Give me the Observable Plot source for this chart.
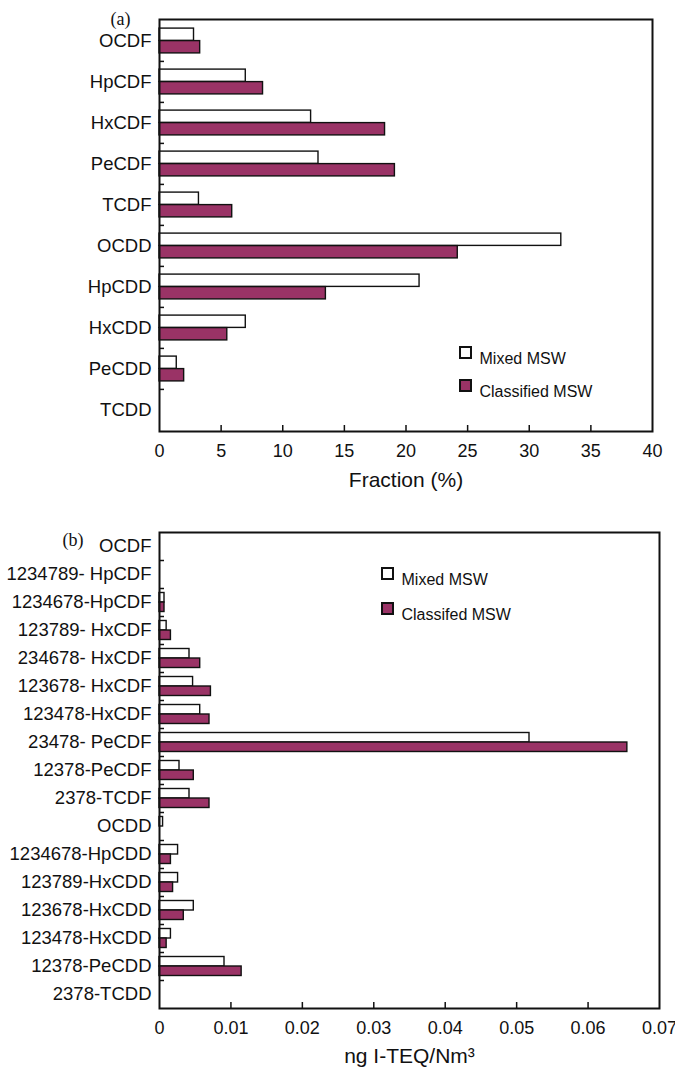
<!DOCTYPE html>
<html>
<head>
<meta charset="utf-8">
<script src="https://cdn.jsdelivr.net/npm/d3@7"></script>
<script src="https://cdn.jsdelivr.net/npm/@observablehq/plot@0.6"></script>
<style>
  body { margin: 0; background: #fff; }
  #chart svg { display: block; }
</style>
</head>
<body>
<div id="chart"></div>
<script>
// ---- Panel (a): homologue fractions (%) ----
const seriesA = ["Mixed MSW", "Classified MSW"];
const catsA = ["OCDF", "HpCDF", "HxCDF", "PeCDF", "TCDF", "OCDD", "HpCDD", "HxCDD", "PeCDD", "TCDD"];
const mixedA = [2.8, 7.0, 12.3, 12.9, 3.2, 32.6, 21.1, 7.0, 1.4, 0];
const classA = [3.3, 8.4, 18.3, 19.1, 5.9, 24.2, 13.5, 5.5, 2.0, 0];
const xTicksA = [0, 5, 10, 15, 20, 25, 30, 35, 40];

// ---- Panel (b): congener I-TEQ (ng I-TEQ/Nm3) ----
const seriesB = ["Mixed MSW", "Classifed MSW"];
const catsB = ["OCDF", "1234789- HpCDF", "1234678-HpCDF", "123789- HxCDF", "234678- HxCDF",
  "123678- HxCDF", "123478-HxCDF", "23478- PeCDF", "12378-PeCDF", "2378-TCDF", "OCDD",
  "1234678-HpCDD", "123789-HxCDD", "123678-HxCDD", "123478-HxCDD", "12378-PeCDD", "2378-TCDD"];
const mixedB = [0, 0, 0.0007, 0.0010, 0.0042, 0.0047, 0.0057, 0.0518, 0.0028, 0.0042, 0.0005,
  0.0026, 0.0026, 0.0048, 0.0016, 0.0091, 0];
const classB = [0, 0, 0.0007, 0.0016, 0.0057, 0.0072, 0.0070, 0.0655, 0.0048, 0.0070, 0,
  0.0016, 0.0019, 0.0034, 0.0010, 0.0115, 0];
const xTicksB = [0, 0.01, 0.02, 0.03, 0.04, 0.05, 0.06, 0.07];
const xLabelsB = ["0", "0.01", "0.02", "0.03", "0.04", "0.05", "0.06", "0.07"];

const FONT = "'Liberation Sans', Arial, Helvetica, sans-serif";
const SERIF = "'Liberation Serif', 'Times New Roman', serif";
const PLUM = "#9a3366";

function panel(o) {
  const rows = o.cats.map((c, i) => ({cat: c, mixed: o.mixed[i], cls: o.cls[i]}));
  const frameH = o.height - o.marginTop - o.marginBottom;
  const frameW = 675 - 159 - o.marginRight;
  const step = frameH / o.cats.length;
  const half = step / 2;
  const bh = o.barH; // height of each bar
  return Plot.plot({
    width: 675,
    height: o.height,
    marginLeft: 159,
    marginRight: o.marginRight,
    marginTop: o.marginTop,
    marginBottom: o.marginBottom,
    style: {fontFamily: FONT, fontSize: "18px", color: "#111", background: "white", overflow: "visible"},
    x: {domain: o.domain},
    y: {domain: o.cats, padding: 0},
    marks: [
      Plot.barX(rows.filter(d => d.mixed > 0), {
        x: "mixed", y: "cat", fill: "white", stroke: "#111", strokeWidth: 1.4,
        insetTop: half - bh, insetBottom: half
      }),
      Plot.barX(rows.filter(d => d.cls > 0), {
        x: "cls", y: "cat", fill: PLUM, stroke: "#111", strokeWidth: 1.4,
        insetTop: half, insetBottom: half - bh
      }),
      Plot.frame({stroke: "#111", strokeWidth: 2}),
      Plot.tickY(o.cats.slice(1), {y: d => d, dy: -half, insetRight: frameW - 5, stroke: "#111", strokeWidth: 1.5}),
      Plot.tickX(o.ticks.slice(1, -1), {x: d => d, insetTop: frameH - 6, stroke: "#111", strokeWidth: 1.5}),
      Plot.axisY({tickSize: 0, tickPadding: 8, label: null, fill: "#111", fontSize: 18.5}),
      Plot.axisX({ticks: o.ticks, tickSize: 0, tickPadding: 13, tickFormat: o.fmt, label: null, fill: "#111", fontSize: 18}),
      Plot.text([o.title], {frameAnchor: "bottom", dy: o.titleDy, fontSize: 21, fill: "#111"}),
      Plot.text([o.tag], {frameAnchor: "top-left", dx: o.tagDx, dy: o.tagDy, fontSize: 18, fontFamily: SERIF, fill: "#111"}),
      Plot.dot([o.names[0]], {frameAnchor: "top-left", dx: o.legDx, dy: o.legDy, symbol: "square", r: 6.2, fill: "white", stroke: "#111", strokeWidth: 2}),
      Plot.dot([o.names[1]], {frameAnchor: "top-left", dx: o.legDx, dy: o.legDy + o.legGap, symbol: "square", r: 6.2, fill: PLUM, stroke: "#111", strokeWidth: 2}),
      Plot.text([o.names[0]], {text: d => d, frameAnchor: "top-left", dx: o.legDx + 14, dy: o.legDy, textAnchor: "start", fontSize: 16, fill: "#111"}),
      Plot.text([o.names[1]], {text: d => d, frameAnchor: "top-left", dx: o.legDx + 14, dy: o.legDy + o.legGap, textAnchor: "start", fontSize: 16, fill: "#111"})
    ]
  });
}

const chartA = panel({
  cats: catsA, mixed: mixedA, cls: classA, domain: [0, 40], ticks: xTicksA, fmt: d => String(d),
  height: 500, marginTop: 19, marginBottom: 69, marginRight: 23, barH: 12.5,
  title: "Fraction (%)", titleDy: 55, tag: "(a)", tagDx: -49, tagDy: -7,
  names: seriesA, legDx: 306, legDy: 333, legGap: 33
});
const chartB = panel({
  cats: catsB, mixed: mixedB, cls: classB, domain: [0, 0.07], ticks: xTicksB,
  fmt: d => xLabelsB[xTicksB.indexOf(d)] ?? String(d),
  height: 575, marginTop: 32, marginBottom: 67, marginRight: 16, barH: 9.5,
  title: "ng I-TEQ/Nm³", titleDy: 54, tag: "(b)", tagDx: -97, tagDy: 1,
  names: seriesB, legDx: 228, legDy: 41, legGap: 35
});
document.getElementById("chart").append(chartA, chartB);
</script>
</body>
</html>
